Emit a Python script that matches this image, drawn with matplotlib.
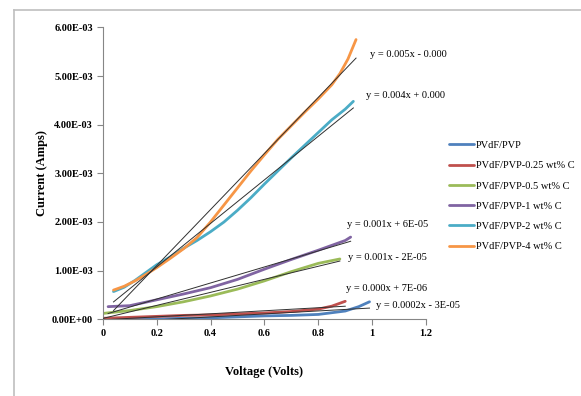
import numpy as np
import matplotlib
matplotlib.use("Agg")
import matplotlib.pyplot as plt
from matplotlib.lines import Line2D
from matplotlib.ticker import FuncFormatter, MultipleLocator

plt.rcParams['font.family'] = ['Liberation Serif', 'DejaVu Serif']

# I-V data (voltage in V, current in mA -> scaled to A below)
v_pvp = [0.05, 0.20, 0.30, 0.40, 0.50, 0.60, 0.70, 0.80, 0.90, 0.95, 0.99]
i_pvp = [0.00, 0.01, 0.02, 0.03, 0.05, 0.07, 0.08, 0.10, 0.17, 0.26, 0.36]

v_c025 = [0.00, 0.10, 0.20, 0.30, 0.40, 0.50, 0.60, 0.70, 0.80, 0.85, 0.90]
i_c025 = [0.02, 0.04, 0.06, 0.08, 0.09, 0.11, 0.13, 0.16, 0.21, 0.27, 0.37]

v_c05 = [0.00, 0.10, 0.20, 0.30, 0.40, 0.50, 0.60, 0.70, 0.80, 0.88]
i_c05 = [0.12, 0.18, 0.26, 0.36, 0.48, 0.62, 0.79, 0.98, 1.15, 1.24]

v_c1 = [0.02, 0.10, 0.20, 0.30, 0.40, 0.50, 0.60, 0.70, 0.80, 0.90, 0.92]
i_c1 = [0.26, 0.28, 0.40, 0.52, 0.65, 0.82, 1.03, 1.23, 1.42, 1.62, 1.69]

v_c2 = [0.04, 0.08, 0.12, 0.16, 0.20, 0.25, 0.30, 0.35, 0.40, 0.45, 0.50,
        0.55, 0.60, 0.65, 0.70, 0.75, 0.80, 0.85, 0.90, 0.93]
i_c2 = [0.57, 0.66, 0.80, 0.96, 1.12, 1.28, 1.46, 1.62, 1.80, 2.00, 2.24,
        2.50, 2.78, 3.05, 3.32, 3.58, 3.84, 4.10, 4.32, 4.48]

v_c4 = [0.04, 0.08, 0.12, 0.16, 0.20, 0.25, 0.30, 0.35, 0.40, 0.45, 0.50,
        0.55, 0.60, 0.65, 0.70, 0.75, 0.80, 0.85, 0.88, 0.91, 0.94]
i_c4 = [0.60, 0.68, 0.79, 0.92, 1.06, 1.25, 1.45, 1.68, 2.00, 2.35, 2.70,
        3.05, 3.38, 3.70, 3.98, 4.26, 4.53, 4.82, 5.05, 5.35, 5.75]

labels = ["PVdF/PVP", "PVdF/PVP-0.25 wt% C", "PVdF/PVP-0.5 wt% C",
          "PVdF/PVP-1 wt% C", "PVdF/PVP-2 wt% C", "PVdF/PVP-4 wt% C"]
equations = ["y = 0.0002x - 3E-05", "y = 0.000x + 7E-06", "y = 0.001x - 2E-05",
             "y = 0.001x + 6E-05", "y = 0.004x + 0.000", "y = 0.005x - 0.000"]

colors = ["#4F81BD", "#C0504D", "#9BBB59", "#8064A2", "#4BACC6", "#F79646"]
# where the trendline equations sit (data coords)
eq_pos = [(1.014, 0.29e-3), (0.903, 0.64e-3), (0.910, 1.26e-3),
          (0.906, 1.94e-3), (0.977, 4.61e-3), (0.992, 5.44e-3)]

series = [(v_pvp, i_pvp), (v_c025, i_c025), (v_c05, i_c05),
          (v_c1, i_c1), (v_c2, i_c2), (v_c4, i_c4)]

fig = plt.figure(figsize=(5.81, 3.96), dpi=100)
ax = fig.add_axes([0.1768, 0.1937, 0.5566, 0.7371])

handles = []
for (v, i), col, lab in zip(series, colors, labels):
    v = np.array(v)
    i = np.array(i) * 1e-3
    h, = ax.plot(v, i, color=col, lw=2.0, solid_capstyle='round',
                 solid_joinstyle='round', label=lab)
    handles.append(h)

# linear trendlines, as in the spreadsheet
for (v, i), eq, (ex, ey) in zip(series, equations, eq_pos):
    v = np.array(v)
    i = np.array(i) * 1e-3
    m, b = np.polyfit(v, i, 1)
    xs = np.array([v.min(), v.max()])
    ax.plot(xs, m * xs + b, color='#303030', lw=0.7, zorder=5)
    ax.text(ex, ey, eq, fontsize=7.5, ha='left', va='center', clip_on=False)

ax.set_xlim(0, 1.2)
ax.set_ylim(0, 6e-3)
ax.xaxis.set_major_locator(MultipleLocator(0.2))
ax.yaxis.set_major_locator(MultipleLocator(1e-3))
ax.xaxis.set_major_formatter(FuncFormatter(lambda v, p: f"{v:g}"))
ax.yaxis.set_major_formatter(FuncFormatter(lambda v, p: f"{v:.2E}"))

for s in ['top', 'right']:
    ax.spines[s].set_visible(False)
for s in ['left', 'bottom']:
    ax.spines[s].set_color('#868686')
    ax.spines[s].set_linewidth(0.8)
ax.tick_params(direction='out', length=4, width=0.8, color='#868686',
               labelsize=7.5, pad=3)
for t in ax.get_xticklabels() + ax.get_yticklabels():
    t.set_fontweight('bold')

ax.set_xlabel("Voltage (Volts)", fontsize=9, fontweight='bold', labelpad=20)
ax.set_ylabel("Current (Amps)", fontsize=9, fontweight='bold', labelpad=3)

fig.legend(handles=handles, loc='upper left', bbox_to_anchor=(0.766, 0.655),
           frameon=False, fontsize=7.5, handlelength=2.4, handletextpad=0.15,
           labelspacing=1.05, borderaxespad=0)

# outer chart-area frame (only top/left edges visible)
fig.add_artist(Line2D([14 / 581, 14 / 581], [0, 1 - 10 / 396], color='#BFBFBF', lw=1.2,
                      transform=fig.transFigure))
fig.add_artist(Line2D([14 / 581, 1], [1 - 10 / 396, 1 - 10 / 396], color='#BFBFBF', lw=1.2,
                      transform=fig.transFigure))

fig.savefig("out.png", dpi=100)
